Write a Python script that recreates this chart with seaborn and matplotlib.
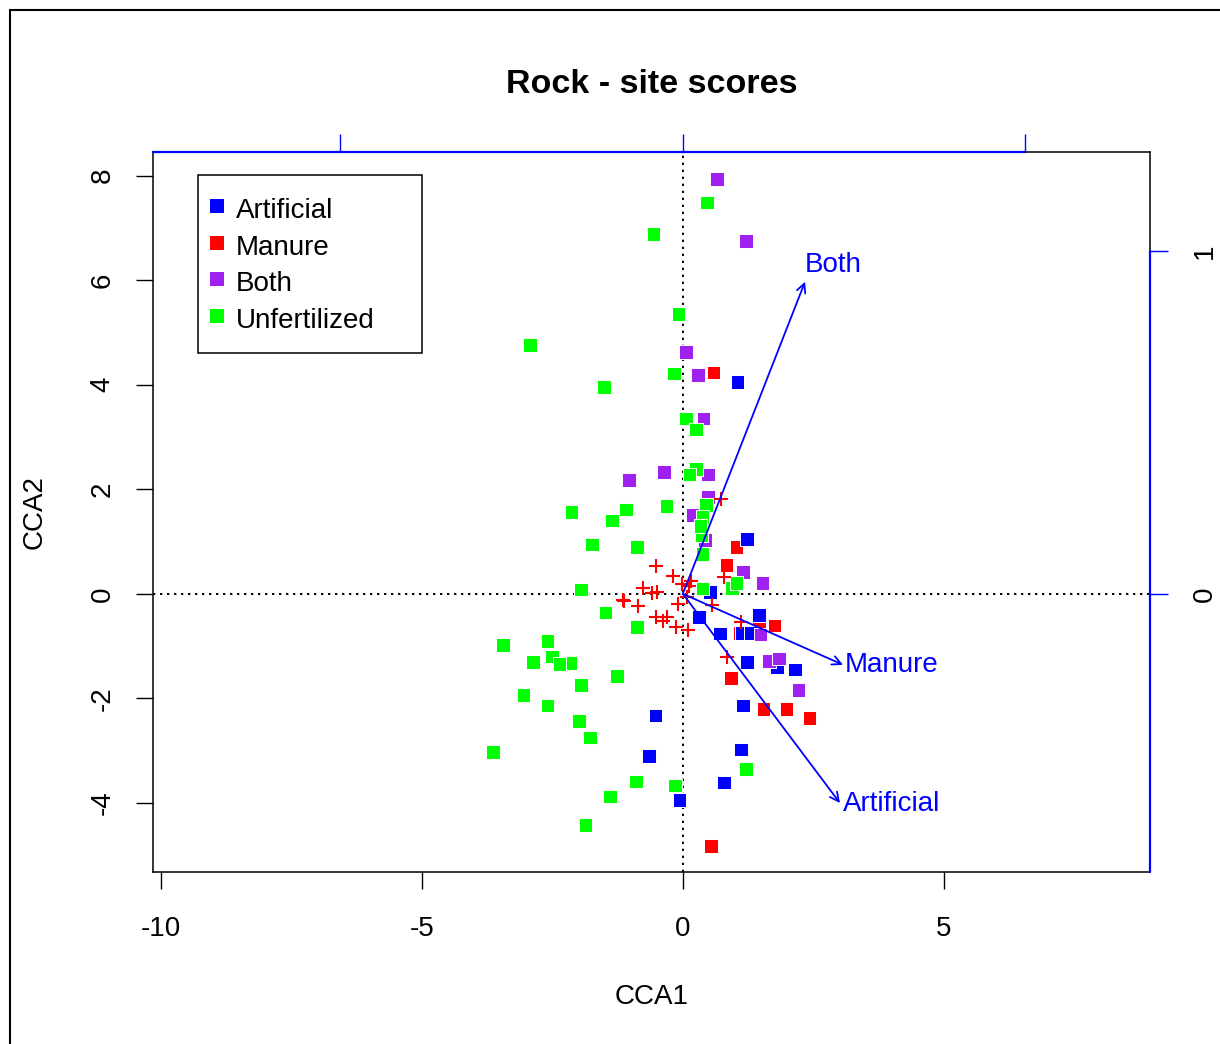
import numpy as np
import pandas as pd
import matplotlib
matplotlib.use("Agg")
import matplotlib.pyplot as plt
import seaborn as sns
from matplotlib.lines import Line2D

# ---------------- data ----------------
groups = ["Artificial", "Manure", "Both", "Unfertilized"]
palette = {"Artificial": "#0000FF", "Manure": "#FF0000",
           "Both": "#A020F0", "Unfertilized": "#00FF00"}

art_x = [1.05, 1.23, 0.52, 1.46, 0.31, 0.71, 1.13, 1.30, 1.23, 1.80, 2.15,
         1.15, -0.52, -0.65, 1.11, 0.79, -0.06]
art_y = [4.05, 1.05, 0.04, -0.40, -0.44, -0.76, -0.75, -0.75, -1.30, -1.40,
         -1.45, -2.14, -2.33, -3.10, -2.98, -3.61, -3.94]

man_x = [0.59, 1.03, 0.84, 1.46, 1.76, 1.09, 0.92, 1.55, 1.99, 2.43, 0.54]
man_y = [4.23, 0.90, 0.55, -0.57, -0.61, -0.75, -1.61, -2.20, -2.20, -2.37, -4.82]

both_x = [0.65, 1.21, 0.06, 0.29, 0.40, -1.03, -0.36, 0.48, 0.48, 0.19, 0.42,
          1.15, 1.53, 1.49, 1.65, 1.84, 2.22]
both_y = [7.93, 6.75, 4.63, 4.19, 3.35, 2.18, 2.33, 2.28, 1.85, 1.51, 1.03,
          0.42, 0.21, -0.78, -1.28, -1.24, -1.84]

unf_x = [0.46, -0.56, -0.08, -2.93, -1.51, -0.17, 0.06, 0.25, 0.25, 0.13, 0.44,
         0.38, 0.36, 0.38, 0.38, -0.31, -1.09, -1.36, -2.13, -1.74, -0.88, -1.95,
         0.94, 1.03, -1.48, -0.88, -3.45, -2.59, -2.87, -2.51, -2.16, -2.36, -1.26,
         -1.95, -3.05, -2.59, -1.99, -1.78, -3.64, 1.21, -0.90, -0.15, -1.40, -1.86,
         0.34]
unf_y = [7.48, 6.88, 5.35, 4.76, 3.96, 4.21, 3.35, 3.14, 2.39, 2.28, 1.70,
         1.47, 1.13, 0.76, 0.10, 1.68, 1.61, 1.40, 1.57, 0.94, 0.90, 0.08,
         0.11, 0.21, -0.36, -0.63, -0.98, -0.90, -1.30, -1.20, -1.32, -1.34, -1.57,
         -1.74, -1.93, -2.14, -2.43, -2.75, -3.02, -3.35, -3.59, -3.67, -3.88, -4.42,
         1.30]

# species scores (red crosses)
sp_x = [0.73, -0.52, -0.19, 0.15, -0.02, 0.11, -0.77, -0.59, -0.50, -1.15, -1.12,
        -0.86, -0.10, 0.08, -0.52, -0.38, -0.31, -0.13, 0.10, 0.79, 0.56, 1.11, 0.84]
sp_y = [1.82, 0.54, 0.34, 0.25, 0.19, 0.15, 0.11, 0.02, 0.04, -0.11, -0.13,
        -0.23, -0.19, -0.06, -0.44, -0.52, -0.44, -0.63, -0.69, 0.33, -0.21, -0.54, -1.20]

# biplot arrows (in biplot-axis units)
arrow_names = ["Both", "Manure", "Artificial"]
arrow_x = [0.357, 0.468, 0.459]
arrow_y = [0.910, -0.207, -0.610]
arrow_mul = 6.56

x_ticks = [-10, -5, 0, 5]
y_ticks = [-4, -2, 0, 2, 4, 6, 8]
bip_ticks_top = [-1, 0, 1]
bip_ticks_right = [0, 1]

# ---------------- build table ----------------
draw_order = ["Manure", "Artificial", "Both", "Unfertilized"]
xs = {"Artificial": art_x, "Manure": man_x, "Both": both_x, "Unfertilized": unf_x}
ys = {"Artificial": art_y, "Manure": man_y, "Both": both_y, "Unfertilized": unf_y}
sites = pd.concat([pd.DataFrame({"CCA1": xs[g], "CCA2": ys[g], "group": g})
                   for g in draw_order], ignore_index=True)
species = pd.DataFrame({"CCA1": sp_x, "CCA2": sp_y})

# ---------------- style ----------------
sns.set_theme(style="white")
plt.rcParams["font.family"] = ["Liberation Sans", "DejaVu Sans"]
plt.rcParams["axes.unicode_minus"] = False
for k in ["text.color", "axes.labelcolor", "xtick.color", "ytick.color",
          "axes.titlecolor"]:
    plt.rcParams[k] = "black"

fig = plt.figure(figsize=(12.2, 10.44), dpi=100)
ax = fig.add_axes([153 / 1220, 1 - 872 / 1044, 997 / 1220, 720 / 1044])

xlim = (-10.15, 8.95)
ylim = (-5.32, 8.45)

ax.axhline(0, color="black", lw=1.4, ls=(0, (1.2, 2.4)), zorder=1)
ax.axvline(0, color="black", lw=1.4, ls=(0, (1.2, 2.4)), zorder=1)

sns.scatterplot(data=sites, x="CCA1", y="CCA2", hue="group", palette=palette,
                marker="s", s=95, edgecolor="white", linewidth=0.7,
                legend=False, ax=ax, zorder=3)
sns.scatterplot(data=species, x="CCA1", y="CCA2", color="#FF0000", marker="+",
                s=110, linewidth=1.5, legend=False, ax=ax, zorder=4)

label_offsets = {"Both": (0, 12), "Manure": (1.5, 0), "Artificial": (2, -1)}
for name, bx, by in zip(arrow_names, arrow_x, arrow_y):
    tx, ty = bx * arrow_mul, by * arrow_mul
    ax.annotate("", xy=(tx, ty), xytext=(0, 0),
                arrowprops=dict(arrowstyle="->", color="#0000FF", lw=1.3,
                                shrinkA=0, shrinkB=0, mutation_scale=16),
                zorder=5)
    ax.annotate(name, xy=(tx, ty), xytext=label_offsets[name],
                textcoords="offset points", color="#0000FF", fontsize=20,
                ha="left", va="center", zorder=6)

ax.set_xlim(*xlim)
ax.set_ylim(*ylim)
ax.set_xticks(x_ticks)
ax.set_xticklabels([str(t) for t in x_ticks])
ax.set_yticks(y_ticks)
ax.set_yticklabels([str(t) for t in y_ticks], rotation=90, va="center")
ax.tick_params(axis="both", direction="out", length=12, width=1.0,
               labelsize=20, colors="black", bottom=True, left=True)
ax.tick_params(axis="x", pad=20)
ax.tick_params(axis="y", pad=15)
for sp in ax.spines.values():
    sp.set_color("black")
    sp.set_linewidth(1.1)

ax.set_xlabel("CCA1", fontsize=20, labelpad=30)
ax.set_ylabel("CCA2", fontsize=20, labelpad=30)
ax.set_title("Rock - site scores", fontsize=24.5, fontweight="bold", pad=42.5)

# biplot axes (top and right)
fwd = lambda v: v / arrow_mul
inv = lambda v: v * arrow_mul
secx = ax.secondary_xaxis("top", functions=(fwd, inv))
secx.set_xticks(bip_ticks_top)
secx.tick_params(direction="out", length=13, width=1.0, color="#0000FF",
                 labeltop=False)
secx.spines["top"].set_visible(False)
secy = ax.secondary_yaxis("right", functions=(fwd, inv))
secy.set_yticks(bip_ticks_right)
secy.set_yticklabels([str(t) for t in bip_ticks_right], rotation=90, va="center")
secy.tick_params(direction="out", length=13, width=1.0, color="#0000FF",
                 labelcolor="black", labelsize=20, pad=17.5)
secy.spines["right"].set_visible(False)

ax.plot([xlim[0], max(bip_ticks_top) * arrow_mul], [1, 1],
        transform=ax.get_xaxis_transform(), color="#0000FF", lw=1.6,
        clip_on=False, zorder=10)
ax.plot([1, 1], [ylim[0], max(bip_ticks_right) * arrow_mul],
        transform=ax.get_yaxis_transform(), color="#0000FF", lw=1.6,
        clip_on=False, zorder=10)

# legend
handles = [Line2D([], [], marker="s", ls="none", color=palette[g],
                  markersize=9.5, markeredgewidth=0) for g in groups]
leg = ax.legend(handles, groups, loc="upper left",
                bbox_to_anchor=(0.045, 0.468, 224 / 997, 0.5), mode="expand",
                borderaxespad=0, fontsize=20, frameon=True, fancybox=False,
                edgecolor="black", framealpha=1, handlelength=0.05,
                handleheight=1.3, handletextpad=0.64, labelspacing=0.22,
                borderpad=0.68)
leg.get_frame().set_linewidth(1.1)

# outer frame
fig.add_artist(Line2D([10 / 1220, 10 / 1220], [0, 1 - 10 / 1044],
                      transform=fig.transFigure, color="black", lw=1.5))
fig.add_artist(Line2D([10 / 1220, 1], [1 - 10 / 1044, 1 - 10 / 1044],
                      transform=fig.transFigure, color="black", lw=1.5))

fig.savefig("out.png", dpi=100)
